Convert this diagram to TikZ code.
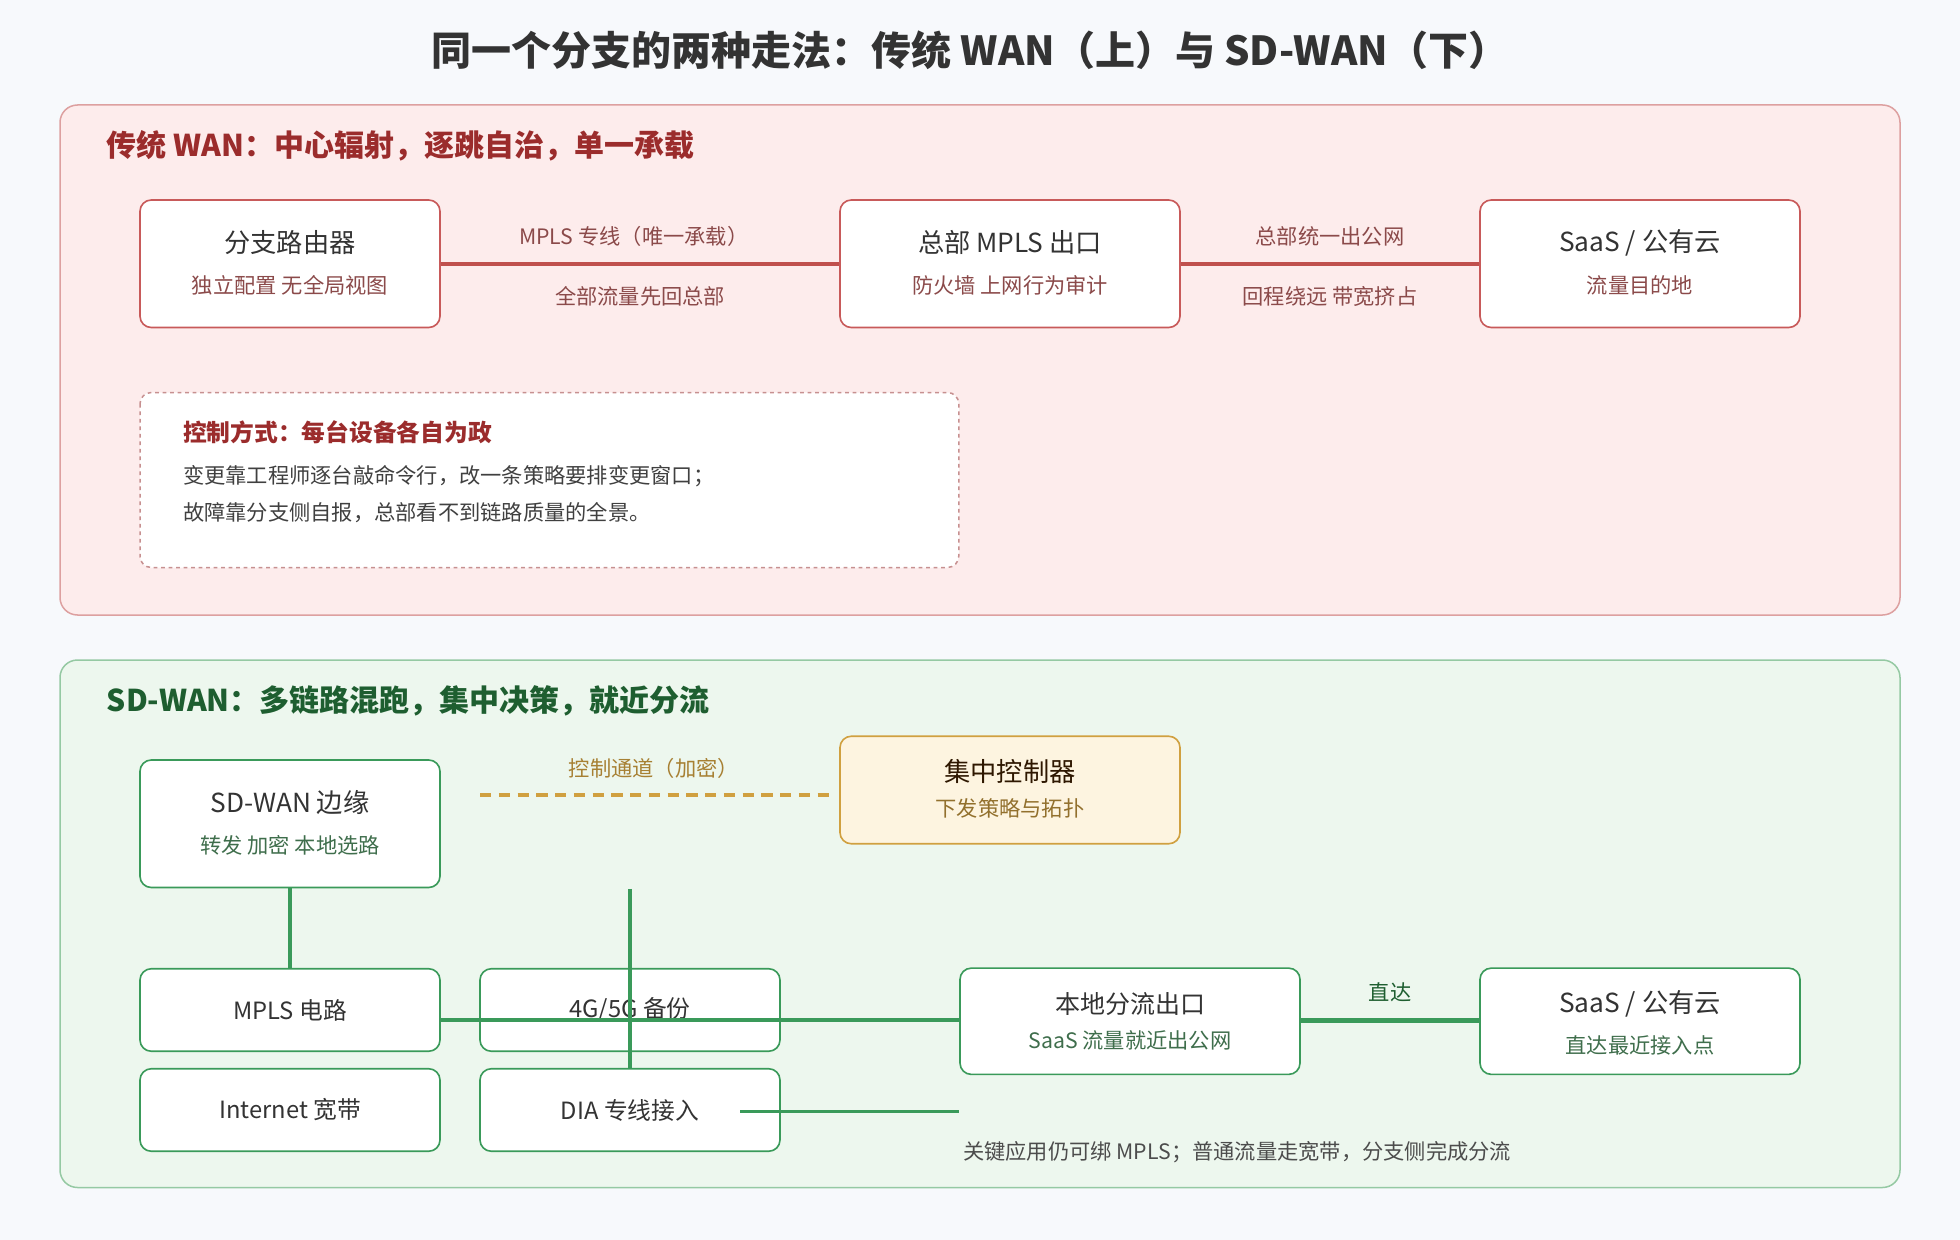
\documentclass[tikz,border=0pt]{standalone}
\usepackage{fontspec}
\setmainfont{Noto Sans CJK SC}
\begin{document}
\begin{tikzpicture}[x=1pt,y=-1pt,
  box/.style={draw=#1,line width=1.3pt,rounded corners=9pt,fill=white},
  tt/.style={font=\fontsize{21}{25}\selectfont,text=black!80},
  st/.style={font=\fontsize{17}{20}\selectfont,text=#1},
  gl/.style={draw=gline,line width=2.8pt},
  lbl/.style={font=\fontsize{17}{20}\selectfont,text=#1}]
\definecolor{bg}{HTML}{F7F9FC}
\definecolor{rfill}{HTML}{FDECEC}
\definecolor{rstroke}{HTML}{DDA0A0}
\definecolor{rbox}{HTML}{C85A5A}
\definecolor{rhead}{HTML}{9B2C2C}
\definecolor{rsub}{HTML}{8B4A4A}
\definecolor{rline}{HTML}{C0504D}
\definecolor{gfill}{HTML}{EDF7EE}
\definecolor{gstroke}{HTML}{95C9A3}
\definecolor{gbox}{HTML}{3A9A5A}
\definecolor{ghead}{HTML}{1E5E30}
\definecolor{gsub}{HTML}{3F6E4C}
\definecolor{gline}{HTML}{3A9A5A}
\definecolor{cfill}{HTML}{FDF4E0}
\definecolor{cstroke}{HTML}{D0A040}
\fill[bg] (0,0) rectangle (1568,992);
\useasboundingbox (0,0) rectangle (1568,992);
\node[font=\fontsize{32}{38}\selectfont\bfseries,text=black!80] (title) at (776,40) {同一个分支的两种走法：传统 WAN（上）与 SD-WAN（下）};
% top panel
\draw[rstroke,fill=rfill,line width=1.2pt,rounded corners=14pt] (48,84) rectangle (1520,492);
\node[anchor=west,font=\fontsize{24}{28}\selectfont\bfseries,text=rhead] (h1) at (82,117) {传统 WAN：中心辐射，逐跳自治，单一承载};
\node[box=rbox,minimum width=240pt,minimum height=102pt] (br) at (232,211) {};
\node[box=rbox,minimum width=272pt,minimum height=102pt] (hq) at (808,211) {};
\node[box=rbox,minimum width=256pt,minimum height=102pt] (saas) at (1312,211) {};
\node[tt] at (232,194) {分支路由器};
\node[st=rsub] at (232,228) {独立配置 无全局视图};
\node[tt] at (808,194) {总部 MPLS 出口};
\node[st=rsub] at (808,228) {防火墙 上网行为审计};
\node[tt] at (1312,194) {SaaS / 公有云};
\node[st=rsub] at (1312,228) {流量目的地};
\draw[draw=rline,line width=3.5pt] (br.east) -- (hq.west);
\draw[draw=rline,line width=3.5pt] (hq.east) -- (saas.west);
\node[lbl=rsub] at (507,189) {MPLS 专线（唯一承载）};
\node[lbl=rsub] at (512,237) {全部流量先回总部};
\node[lbl=rsub] at (1064,189) {总部统一出公网};
\node[lbl=rsub] at (1064,237) {回程绕远 带宽挤占};
\draw[rstroke!90!black,dashed,line width=1.2pt,fill=white,rounded corners=9pt] (112,314) rectangle (767,454);
\node[anchor=west,font=\fontsize{19}{23}\selectfont\bfseries,text=rhead] at (143,346) {控制方式：每台设备各自为政};
\node[anchor=west,font=\fontsize{17}{20}\selectfont,text=black!75] at (143,381) {变更靠工程师逐台敲命令行，改一条策略要排变更窗口；};
\node[anchor=west,font=\fontsize{17}{20}\selectfont,text=black!75] at (143,410) {故障靠分支侧自报，总部看不到链路质量的全景。};
% bottom panel
\draw[gstroke,fill=gfill,line width=1.2pt,rounded corners=14pt] (48,528) rectangle (1520,950);
\node[anchor=west,font=\fontsize{24}{28}\selectfont\bfseries,text=ghead] (h2) at (82,561) {SD-WAN：多链路混跑，集中决策，就近分流};
\node[box=gbox,minimum width=240pt,minimum height=102pt] (edge) at (232,659) {};
\node[tt] at (232,642) {SD-WAN 边缘};
\node[st=gsub] at (232,676) {转发 加密 本地选路};
\node[draw=cstroke,line width=1.3pt,rounded corners=9pt,fill=cfill,minimum width=272pt,minimum height=86pt] (ctl) at (808,632) {};
\node[font=\fontsize{21}{25}\selectfont,text=black!70!orange!60!black] at (808,617) {集中控制器};
\node[st=cstroke!70!black] at (808,647) {下发策略与拓扑};
\coordinate (c1) at (384,636);
\coordinate (c2) at (666,636);
\draw[cstroke,dashed,dash pattern=on 9pt off 6pt,line width=2.6pt] (c1) -- (c2);
\node[lbl=cstroke!80!black] at (523,615) {控制通道（加密）};
\node[box=gbox,minimum width=240pt,minimum height=66pt] (mpls) at (232,808) {};
\node[box=gbox,minimum width=240pt,minimum height=66pt] (g45) at (504,808) {};
\node[box=gbox,minimum width=240pt,minimum height=66pt] (inet) at (232,888) {};
\node[box=gbox,minimum width=240pt,minimum height=66pt] (dia) at (504,888) {};
\node[font=\fontsize{19}{23}\selectfont,text=black!80] at (232,808) {MPLS 电路};
\node[font=\fontsize{19}{23}\selectfont,text=black!80] at (504,808) {4G/5G 备份};
\node[font=\fontsize{19}{23}\selectfont,text=black!80] at (232,888) {Internet 宽带};
\node[font=\fontsize{19}{23}\selectfont,text=black!80] at (504,888) {DIA 专线接入};
\node[box=gbox,minimum width=272pt,minimum height=85pt] (loc) at (904,817) {};
\node[font=\fontsize{20}{24}\selectfont,text=black!80] at (904,803) {本地分流出口};
\node[st=gsub] at (904,832) {SaaS 流量就近出公网};
\node[box=gbox,minimum width=256pt,minimum height=85pt] (saas2) at (1312,817) {};
\node[tt] at (1312,803) {SaaS / 公有云};
\node[st=gsub] at (1312,836) {直达最近接入点};
% connectors
\draw[gl] (edge.south) -- (mpls.north);
\coordinate (v1) at (504,711);
\draw[gl] (v1) -- (dia.north);
\draw[gl] (mpls.east |- 0,816) -- (loc.west |- 0,816);
\coordinate (d1) at (592,889);
\draw[gl] (d1) -- (loc.west |- 0,889);
\draw[gline,line width=4pt] (loc.east |- 0,816) -- (saas2.west |- 0,816);
\node[lbl=ghead] at (1112,794) {直达};
\node[anchor=west,font=\fontsize{17}{20}\selectfont,text=black!70] at (767,922) {关键应用仍可绑 MPLS；普通流量走宽带，分支侧完成分流};
\end{tikzpicture}
\end{document}
